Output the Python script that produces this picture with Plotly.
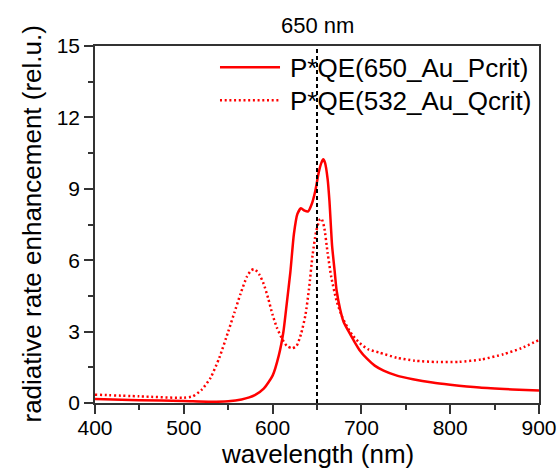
import plotly.graph_objects as go

# Data
wl_p = [400, 450, 500, 530, 550, 565, 580, 590, 600, 607, 612, 616, 620, 624, 628, 632, 636, 640,
        644, 648, 652, 655, 657, 659, 662, 664, 667, 670, 672, 676, 680, 685, 691, 698, 706, 715,
        725, 740, 758, 780, 800, 833, 870, 900]
val_p = [0.17, 0.12, 0.08, 0.05, 0.07, 0.15, 0.33, 0.6, 1.15, 2.0, 2.95, 4.2, 5.5, 7.1, 7.95, 8.18,
         8.08, 8.05, 8.35, 8.9, 9.7, 10.1, 10.24, 10.1, 9.4, 8.5, 6.6, 5.5, 4.75, 3.95, 3.4, 3.05,
         2.65, 2.22, 1.87, 1.57, 1.36, 1.15, 1.0, 0.86, 0.77, 0.65, 0.57, 0.52]

wl_q = [400, 450, 500, 510, 520, 530, 540, 550, 557, 564, 571, 576, 580, 585, 590, 595, 600, 605,
        610, 616, 622, 627, 632, 637, 641, 645, 649, 653, 655, 658, 662, 666, 672, 678, 684, 690,
        698, 708, 720, 740, 760, 785, 810, 835, 860, 880, 900]
val_q = [0.35, 0.28, 0.22, 0.28, 0.55, 1.05, 1.9, 3.0, 3.8, 4.6, 5.3, 5.58, 5.62, 5.4, 5.0, 4.4,
         3.7, 3.15, 2.75, 2.4, 2.3, 2.4, 2.9, 3.7, 4.8, 6.2, 7.2, 7.7, 7.75, 7.4, 6.3, 5.3, 4.3,
         3.65, 3.2, 2.85, 2.52, 2.25, 2.12, 1.9, 1.78, 1.72, 1.73, 1.83, 2.05, 2.3, 2.65]

names = ["P*QE(650_Au_Pcrit)", "P*QE(532_Au_Qcrit)"]
marker_wl = 650
marker_label = "650 nm"
x_title = "wavelength (nm)"
y_title = "radiative rate enhancement (rel.u.)"

FONT = "Liberation Sans, Arial, sans-serif"
RED = "#ff0000"
LW = 2.5
DOT = "2px,2.7px"
styles = [dict(color=RED, width=LW), dict(color=RED, width=LW, dash=DOT)]

fig = go.Figure()
for wl, val, nm, st in [(wl_p, val_p, names[0], styles[0]), (wl_q, val_q, names[1], styles[1])]:
    fig.add_trace(go.Scatter(x=wl, y=val, mode="lines", name=nm, showlegend=False,
                             line=dict(**st, shape="spline", smoothing=0.6)))

# vertical marker line and its label
fig.add_shape(type="line", x0=marker_wl, x1=marker_wl, y0=0, y1=1, xref="x", yref="paper",
              line=dict(color="black", width=2, dash="4px,3px"))
fig.add_annotation(x=marker_wl, y=1, xref="x", yref="paper", yshift=21, text=marker_label,
                   showarrow=False, yanchor="middle", xanchor="center",
                   font=dict(size=22, color="black", family=FONT))

# manual legend (long line samples like the original)
leg_x0, leg_x1, leg_tx = 0.2815, 0.4167, 0.4347
leg_y = [0.9404, 0.848]
for i in range(2):
    fig.add_shape(type="line", xref="paper", yref="paper", x0=leg_x0, x1=leg_x1,
                  y0=leg_y[i], y1=leg_y[i], line=styles[i])
    fig.add_annotation(xref="paper", yref="paper", x=leg_tx, y=leg_y[i], text=names[i],
                       showarrow=False, xanchor="left", yanchor="middle", yshift=-1,
                       font=dict(size=26, color="black", family=FONT))

# axis titles
fig.add_annotation(xref="paper", yref="paper", x=0.5, y=0, yshift=-51, text=x_title,
                   showarrow=False, xanchor="center", yanchor="middle",
                   font=dict(size=26, color="black", family=FONT))
fig.add_annotation(xref="paper", yref="paper", x=0, y=0.5, xshift=-64, text=y_title,
                   showarrow=False, xanchor="center", yanchor="middle", textangle=-90,
                   font=dict(size=26, color="black", family=FONT))

axis_common = dict(showline=True, linecolor="#333", linewidth=1.5, mirror=True,
                   ticks="outside", ticklen=9, tickwidth=1.5, tickcolor="#333",
                   showgrid=False, zeroline=False, automargin=False,
                   tickfont=dict(size=21, color="black", family=FONT))

fig.update_xaxes(range=[400, 900], dtick=100, tick0=400, ticklabelstandoff=-4,
                 minor=dict(dtick=50, ticks="outside", ticklen=5, tickwidth=1.5, tickcolor="#333"),
                 **axis_common)
fig.update_yaxes(range=[0, 15], dtick=3, tick0=0,
                 minor=dict(dtick=1.5, ticks="outside", ticklen=5, tickwidth=1.5, tickcolor="#333"),
                 **axis_common)

fig.update_layout(
    width=559, height=469,
    margin=dict(l=95, r=20, t=46, b=66),
    plot_bgcolor="white", paper_bgcolor="white",
    font=dict(family=FONT, color="black"),
    showlegend=False,
)

fig.write_html("out.html")
